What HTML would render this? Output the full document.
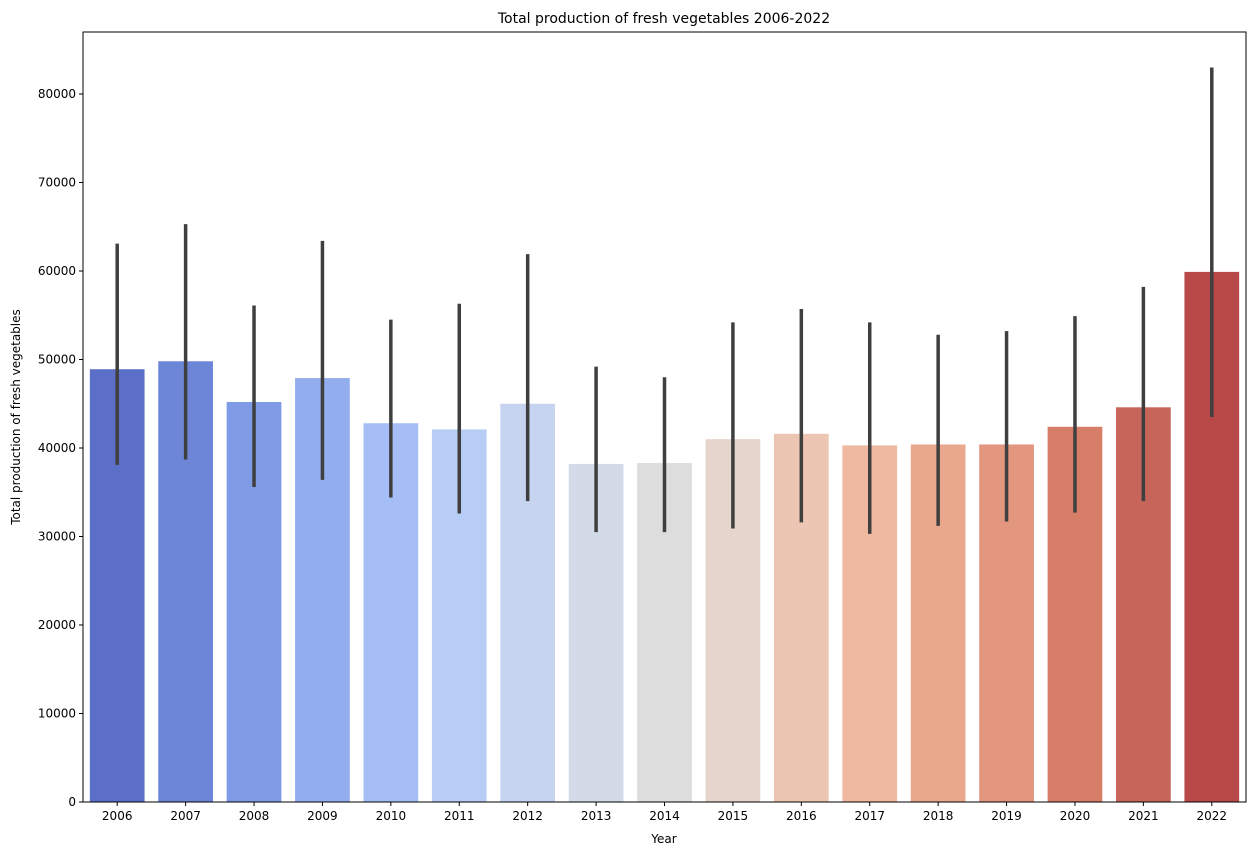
<!DOCTYPE html>
<html><head><meta charset="utf-8"><style>
html,body{margin:0;padding:0;background:#fff;}
svg{display:block;font-family:"DejaVu Sans","Liberation Sans",sans-serif;}
</style></head><body>
<svg id="chart" width="1255" height="855">
<rect x="0" y="0" width="1255" height="855" fill="#fff"/>
<text x="664" y="23" font-size="14" text-anchor="middle">Total production of fresh vegetables 2006-2022</text>
<text x="664" y="843" font-size="12" text-anchor="middle">Year</text>
<text transform="translate(20,417) rotate(-90)" font-size="12" text-anchor="middle">Total production of fresh vegetables</text>
<g id="plot"></g>
<rect x="83" y="32" width="1163" height="770" fill="none" stroke="#000" stroke-width="1"/>
</svg>
<script>
const years=["2006","2007","2008","2009","2010","2011","2012","2013","2014","2015","2016","2017","2018","2019","2020","2021","2022"];
const means=[48900,49800,45200,47900,42800,42100,45000,38200,38300,41000,41600,40300,40400,40400,42400,44600,59900];
const errHigh=[63100,65300,56100,63400,54500,56300,61900,49200,48000,54200,55700,54200,52800,53200,54900,58200,83000];
const errLow=[38100,38700,35600,36400,34400,32600,34000,30500,30500,30900,31600,30300,31200,31700,32700,34000,43500];
const yTicks=[0,10000,20000,30000,40000,50000,60000,70000,80000];
const colors=["#5b6fc8","#6d86d8","#7f9be6","#92aeef","#a5bff6","#b7cdf5","#c6d4f0","#d3dbe8","#dddddd","#e6d5cd","#edc6b3","#eeb9a0","#e9a88c","#e3967e","#d77e69","#c8655a","#b74a49"];
const NS="http://www.w3.org/2000/svg";
const L=83,R=1246,T=32,B=802;
const band=(R-L)/years.length;
function x(i){return L+band*(i+0.5);}
function y(v){return B-(v/80000)*(B-94);}
const g=document.getElementById('plot');
function mk(tag,attrs){const e=document.createElementNS(NS,tag);for(const k in attrs)e.setAttribute(k,attrs[k]);g.appendChild(e);return e;}
yTicks.forEach(t=>{
  const ln=mk('line',{x1:L-4,x2:L,y1:y(t),y2:y(t),stroke:'#000'});
  
  
  const tx=mk('text',{x:L-7,y:y(t)+4,'font-size':12,'text-anchor':'end'});
  tx.textContent=t;
  
  
});
years.forEach((yr,i)=>{
  const w=band*0.8;
  const r=mk('rect',{x:x(i)-w/2,y:y(means[i]),width:w,height:B-y(means[i]),fill:colors[i]});
  
  
  const e=mk('line',{x1:x(i),x2:x(i),y1:y(errHigh[i]),y2:y(errLow[i]),stroke:'#3f3f3f','stroke-width':3.5});
  
  
  const tk=mk('line',{x1:x(i),x2:x(i),y1:B,y2:B+4,stroke:'#000'});
  
  
  const tx=mk('text',{x:x(i),y:B+18,'font-size':12,'text-anchor':'middle'});
  tx.textContent=yr;
  
  
});
</script>
</body></html>
